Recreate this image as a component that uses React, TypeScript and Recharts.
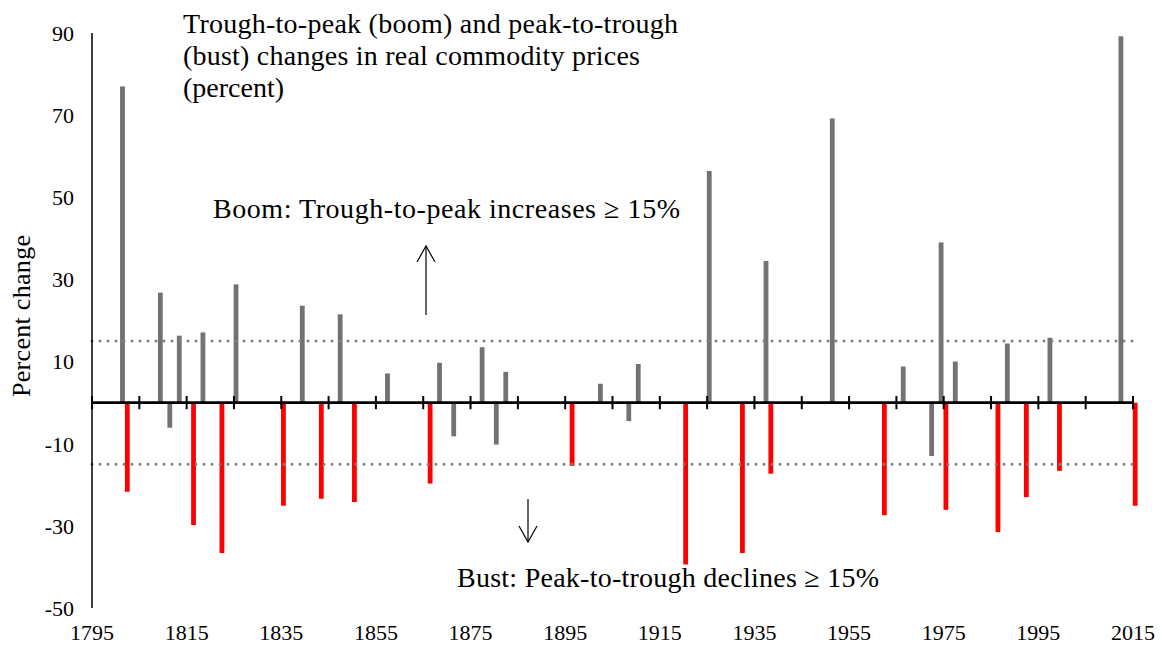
import React from "react";
import { ComposedChart, Bar, XAxis, YAxis, ReferenceLine, Customized } from "recharts";

// gray series: trough-to-peak booms plus small moves that did not reach the 15% bar
const cycleYears = [
  1802, 1810, 1812, 1814, 1819, 1826, 1840, 1848, 1858, 1869, 1872, 1878, 1881, 1883,
  1903, 1909, 1911, 1926, 1938, 1952, 1967, 1973, 1975, 1978, 1989, 1998, 2013,
];
const cycleValues = [
  77, 26.8, -6.1, 16.3, 17.1, 28.8, 23.6, 21.5, 7.1, 9.7, -8.2, 13.5, -10.2, 7.5,
  4.6, -4.5, 9.4, 56.4, 34.5, 69.2, 8.8, -13.0, 39.0, 10.0, 14.4, 15.8, 89.2,
];

// red series: peak-to-trough declines of 15% or more
const bustYears = [
  1802, 1816, 1822, 1835, 1843, 1850, 1866, 1896, 1920, 1932, 1938, 1962, 1975, 1986,
  1992, 1999, 2015,
];
const bustValues = [
  -21.7, -29.8, -36.6, -25.1, -23.4, -24.2, -19.7, -15.4, -39.4, -36.6, -17.3, -27.4,
  -26.1, -31.5, -23.0, -16.6, -25.1,
];

const yearLabels = [1795, 1815, 1835, 1855, 1875, 1895, 1915, 1935, 1955, 1975, 1995, 2015];
const decadeTicks = [
  1795, 1805, 1815, 1825, 1835, 1845, 1855, 1865, 1875, 1885, 1895, 1905, 1915, 1925,
  1935, 1945, 1955, 1965, 1975, 1985, 1995, 2005, 2015,
];
const percentTicks = [-50, -30, -10, 10, 30, 50, 70, 90];
const thresholds = [15, -15];

const GRAY = "#767171";
const RED = "#ff0000";
const FONT = "'Liberation Serif', 'Times New Roman', serif";

const allYears = Array.from(new Set([...cycleYears, ...bustYears])).sort((a, b) => a - b);
const data = allYears.map((year) => {
  const ci = cycleYears.indexOf(year);
  const bi = bustYears.indexOf(year);
  return {
    year,
    cycle: ci >= 0 ? cycleValues[ci] : null,
    bust: bi >= 0 ? bustValues[bi] : null,
  };
});

// Excel clustered look: gray sits just left of the year, red just right
const makeShape = (fill: string, side: "left" | "right", w: number) => (props: any) => {
  const { x, y, width, height } = props;
  if (x == null || y == null || !height) return <g />;
  const cx = x + width / 2;
  const top = height < 0 ? y + height : y;
  return (
    <rect
      x={side === "left" ? cx - w : cx}
      y={top}
      width={w}
      height={Math.abs(height)}
      fill={fill}
    />
  );
};

const YearTick = (props: any) => {
  const { x, payload } = props;
  return (
    <text x={x} y={640} textAnchor="middle" fill="#000" fontSize={22} fontFamily={FONT}>
      {payload.value}
    </text>
  );
};

const Arrow = ({ x, y1, y2 }: { x: number; y1: number; y2: number }) => {
  const dir = y2 < y1 ? 1 : -1;
  return (
    <g stroke="#000" strokeWidth={1.2} fill="none">
      <line x1={x} y1={y1} x2={x} y2={y2} />
      <polyline points={`${x - 9},${y2 + dir * 16} ${x},${y2} ${x + 9},${y2 + dir * 16}`} />
    </g>
  );
};

const Notes = () => (
  <g fontFamily={FONT} fill="#000" fontSize={28}>
    <text x={183} y={33} textLength={495} lengthAdjust="spacing">
      Trough-to-peak (boom) and peak-to-trough
    </text>
    <text x={183} y={65} textLength={457} lengthAdjust="spacing">
      (bust) changes in real commodity prices
    </text>
    <text x={183} y={97}>(percent)</text>
    <text x={213} y={218} textLength={467} lengthAdjust="spacing">
      Boom: Trough-to-peak increases ≥ 15%
    </text>
    <text x={457} y={587} textLength={422} lengthAdjust="spacing">
      Bust: Peak-to-trough declines ≥ 15%
    </text>
    <text
      x={30}
      y={316}
      transform="rotate(-90 30 316)"
      textAnchor="middle"
      fontSize={26}
      textLength={162}
      lengthAdjust="spacing"
    >
      Percent change
    </text>
    <Arrow x={426} y1={315} y2={246} />
    <Arrow x={528} y1={499} y2={542} />
  </g>
);

export default function App() {
  return (
    <div style={{ position: "absolute", left: 0, top: 0, background: "#fff" }}>
      <ComposedChart
        width={1162}
        height={645}
        data={data}
        margin={{ top: 33, right: 29, bottom: 0, left: 32 }}
      >
        <XAxis
          xAxisId="yr"
          dataKey="year"
          type="number"
          domain={[1795, 2015]}
          ticks={yearLabels}
          interval={0}
          axisLine={false}
          tickLine={false}
          height={37}
          tick={<YearTick />}
        />
        <XAxis xAxisId="bust" dataKey="year" type="number" domain={[1795, 2015]} hide />
        <YAxis
          domain={[-50, 90]}
          ticks={percentTicks}
          interval={0}
          width={60}
          axisLine={{ stroke: "#000", strokeWidth: 1.5 }}
          tickLine={false}
          tickSize={8}
          tickMargin={10}
          tick={{ fill: "#000", fontSize: 22, fontFamily: FONT }}
        />
        {thresholds.map((t) => (
          <ReferenceLine
            key={`th-${t}`}
            xAxisId="yr"
            y={t}
            stroke="#808080"
            strokeWidth={3}
            strokeDasharray="0 8"
            strokeLinecap="round"
          />
        ))}
        <Bar
          xAxisId="yr"
          dataKey="cycle"
          barSize={5}
          isAnimationActive={false}
          shape={makeShape(GRAY, "left", 4.8)}
        />
        <Bar
          xAxisId="bust"
          dataKey="bust"
          barSize={5}
          isAnimationActive={false}
          shape={makeShape(RED, "right", 4.8)}
        />
        <ReferenceLine xAxisId="yr" y={0} stroke="#000" strokeWidth={2.8} />
        {decadeTicks.map((d) => (
          <ReferenceLine
            key={`tick-${d}`}
            xAxisId="yr"
            segment={[
              { x: d, y: -1.6 },
              { x: d, y: 1.6 },
            ]}
            stroke="#000"
            strokeWidth={2}
          />
        ))}
        <Customized component={Notes} />
      </ComposedChart>
    </div>
  );
}
